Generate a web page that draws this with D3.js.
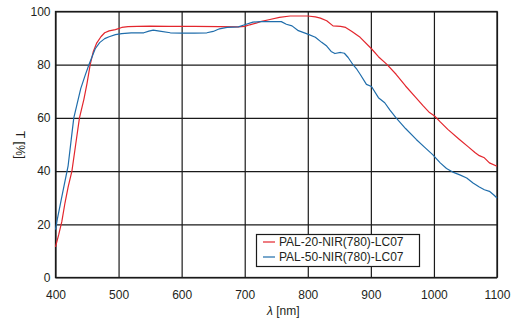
<!DOCTYPE html>
<html><head><meta charset="utf-8">
<script src="https://cdn.jsdelivr.net/npm/d3@7/dist/d3.min.js"></script>
<style>
html,body{margin:0;padding:0;background:#fff;}
text{font-family:"Liberation Sans",Arial,sans-serif;fill:#231f20;}
</style></head><body>
<svg id="chart" width="520" height="334"></svg>
<script>
const xTicks = [400,500,600,700,800,900,1000,1100];
const yTicks = [0,20,40,60,80,100];
const seriesNames = ["PAL-20-NIR(780)-LC07","PAL-50-NIR(780)-LC07"];
const seriesColors = ["#e3262d","#1f6dab"];

const redWl = [400,405,410,415,420,426,432,438,445,450,455,460,465,472,478,485,495,505,515,530,550,580,620,660,690,700,708,718,725,740,755,772,800,812,820,830,840,852,860,870,883,901,912,925,940,955,970,983,993,1001,1010,1022,1040,1055,1065,1072,1080,1088,1100];
const redT  = [11.5,16,21,28,34,40,50,60,67,73,80,85,88,90.5,92,92.7,93.2,94,94.3,94.4,94.5,94.4,94.4,94.3,94.2,94.4,95,95.6,96.2,97,97.8,98.3,98.3,98,97.5,96.5,94.6,94.4,94,92.5,90.3,86,83,80.2,76.4,72,68,64.5,62,60.7,58.5,55.7,52,49,47,45.8,45,43.1,41.8];

const blueWl = [400,403,408,414,420,425,429,434,440,447,453,458,463,470,478,485,495,505,520,540,548,555,565,582,600,620,640,650,660,672,690,700,713,725,740,758,766,775,785,800,812,822,830,837,843,852,858,864,872,878,883,893,901,912,922,930,940,955,972,985,998,1010,1020,1031,1042,1052,1062,1072,1080,1088,1095,1100];
const blueT  = [18,22,28,35,42,52,60,65,71,76,80,83,86,88.3,89.8,90.5,91.3,91.7,92,92,92.6,93,92.6,92,91.9,91.9,92,92.5,93.5,94,94.2,95,96,96.2,96.2,96.2,95.2,94.6,92.8,91.5,90.3,88.4,87,85,84.2,84.6,84.3,82.7,79.9,78.2,76.4,72.6,71.8,67.6,65.7,63,60,56,51.9,49,46.2,43.1,41,39.5,38.5,37.4,35.5,34,33,32.4,31,29.9];

const series = [
  {name: seriesNames[0], color: seriesColors[0], wl: redWl, t: redT},
  {name: seriesNames[1], color: seriesColors[1], wl: blueWl, t: blueT}
];

const svg = d3.select("#chart");
svg.append("rect").attr("width",520).attr("height",334).attr("fill","#fff");
const L = 55.5, R = 497, T = 11.5, B = 277.5;
const x = d3.scaleLinear().domain([400,1100]).range([L,R]);
const y = d3.scaleLinear().domain([0,100]).range([B,T]);

// grid + axes
const gx = svg.append("g").attr("transform",`translate(0,${B})`)
  .call(d3.axisBottom(x).tickValues(xTicks).tickSize(-(B-T)).tickSizeOuter(0).tickPadding(13).tickFormat(d3.format("d")));
const gy = svg.append("g").attr("transform",`translate(${L},0)`)
  .call(d3.axisLeft(y).tickValues(yTicks).tickSize(-(R-L)).tickSizeOuter(0).tickPadding(5).tickFormat(d3.format("d")));
[gx,gy].forEach(g=>{
  g.select(".domain").remove();
  g.selectAll(".tick line").attr("stroke","#1a1a1a").attr("stroke-width",1.2);
  g.selectAll(".tick text").attr("font-size",12).attr("fill","#231f20").style("font-family","'Liberation Sans',Arial,sans-serif");
});
svg.append("rect").attr("x",L).attr("y",T).attr("width",R-L).attr("height",B-T)
  .attr("fill","none").attr("stroke","#1a1a1a").attr("stroke-width",1.3);

// curves
const line = d3.line().x(d=>x(d[0])).y(d=>y(d[1]));
series.forEach(s=>{
  svg.append("path").datum(s.wl.map((w,i)=>[w,s.t[i]]))
    .attr("d",line).attr("fill","none").attr("stroke",s.color).attr("stroke-width",1.2).attr("stroke-linejoin","round");
});

// legend
const lg = svg.append("g");
lg.append("rect").attr("x",256.5).attr("y",234.5).attr("width",163).attr("height",32)
  .attr("fill","#fff").attr("stroke","#1a1a1a").attr("stroke-width",1.2);
series.forEach((s,i)=>{
  const ly = 242 + i*15;
  lg.append("line").attr("x1",263).attr("x2",275).attr("y1",ly).attr("y2",ly).attr("stroke",s.color).attr("stroke-width",1.2);
  lg.append("text").attr("x",279).attr("y",ly+3.8).attr("font-size",12).text(s.name);
});

// axis titles
const xt = svg.append("text").attr("x",267).attr("y",315).attr("font-size",12);
xt.append("tspan").attr("font-style","italic").text("λ");
xt.append("tspan").text(" [nm]");
svg.append("text").attr("transform","translate(15.5,145) rotate(90)").attr("text-anchor","middle")
  .attr("font-size",12).text("T [%]");
</script>
</body></html>
